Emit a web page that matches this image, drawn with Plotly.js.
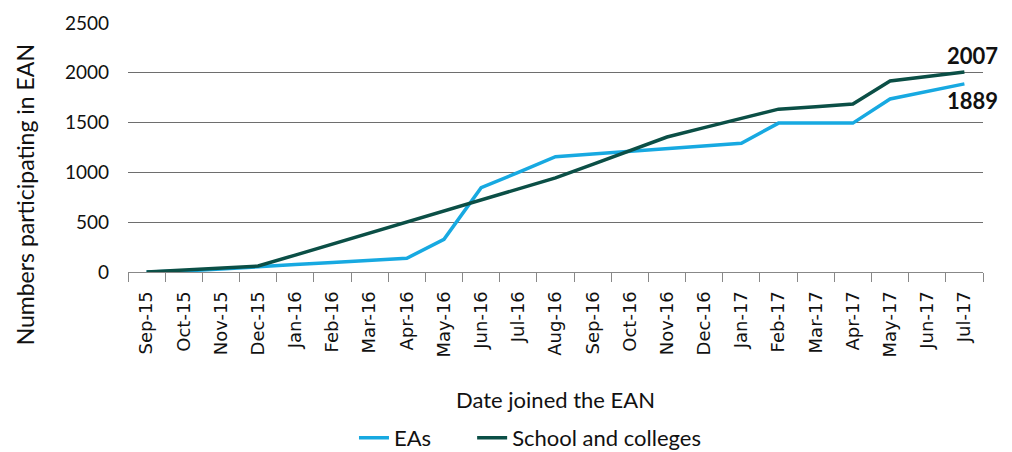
<!DOCTYPE html>
<html>
<head>
<meta charset="utf-8">
<script src="https://cdn.plot.ly/plotly-3.0.1.min.js"></script>
<style>
html,body{margin:0;padding:0;background:#fff;}
#chart{width:1012px;height:452px;}
</style>
</head>
<body>
<div id="chart"></div>
<script>
const months = ["Sep-15","Oct-15","Nov-15","Dec-15","Jan-16","Feb-16","Mar-16","Apr-16","May-16","Jun-16","Jul-16","Aug-16","Sep-16","Oct-16","Nov-16","Dec-16","Jan-17","Feb-17","Mar-17","Apr-17","May-17","Jun-17","Jul-17"];
const eas = [0, 10, 30, 55, 75, 95, 115, 138, 328, 846, 1000, 1158, 1185, 1210, 1237, 1265, 1292, 1495, 1495, 1495, 1737, 1815, 1889];
const schools = [0, 20, 40, 60, 170, 280, 390, 500, 615, 725, 835, 945, 1080, 1215, 1355, 1450, 1545, 1635, 1660, 1687, 1918, 1960, 2007];
const seriesNames = ["EAs", "School and colleges"];
const endLabels = ["1889", "2007"];
const yTitle = "Numbers participating in EAN";
const xTitle = "Date joined the EAN";

const traces = [
  {x: months, y: eas, name: seriesNames[0], type: "scatter", mode: "lines", legend: "legend",
   line: {color: "#17a9e1", width: 3.5}},
  {x: months, y: schools, name: seriesNames[1], type: "scatter", mode: "lines", legend: "legend2",
   line: {color: "#0b4f46", width: 3.5}}
];

const legFont = {family: "Lato", size: 22, color: "#111"};

const layout = {
  width: 1012, height: 452,
  margin: {l: 128, r: 29, t: 23, b: 180, autoexpand: false},
  paper_bgcolor: "#fff", plot_bgcolor: "#fff",
  font: {family: "Lato, 'Open Sans', sans-serif", color: "#111"},
  showlegend: true,
  legend: {orientation: "h", x: 0.2643, xanchor: "left", y: -0.666, yanchor: "middle", font: legFont},
  legend2: {orientation: "h", x: 0.4025, xanchor: "left", y: -0.666, yanchor: "middle", font: legFont},
  xaxis: {
    type: "category", range: [-0.5, 22.5], automargin: false,
    tickangle: -90, tickson: "boundaries", ticks: "outside", ticklen: 9, tickcolor: "#888",
    ticklabelstandoff: 11,
    showline: true, linecolor: "#888", linewidth: 1,
    showgrid: false, zeroline: false,
    tickfont: {family: "DejaVu Sans", size: 18, color: "#111"},
    title: {text: xTitle, font: {family: "Lato", size: 22, color: "#111"}, standoff: 36}
  },
  yaxis: {
    range: [0, 2500], tickvals: [0, 500, 1000, 1500, 2000, 2500], automargin: false,
    showgrid: true, gridcolor: "#6e6e6e", gridwidth: 1,
    zeroline: false, showline: false, ticks: "", ticklabelstandoff: 18,
    tickfont: {family: "Lato", size: 19, color: "#111"}
  },
  annotations: [
    {xref: "paper", yref: "paper", x: -0.121, y: 0.31, text: yTitle, textangle: -90,
     showarrow: false, xanchor: "center", yanchor: "middle",
     font: {family: "Lato", size: 23, color: "#111"}},
    {x: months[months.length-1], y: schools[schools.length-1], text: "<b>" + endLabels[1] + "</b>",
     showarrow: false, xanchor: "center", yanchor: "bottom", xshift: 8, yshift: 1,
     font: {family: "Lato", size: 22, color: "#111"}},
    {x: months[months.length-1], y: eas[eas.length-1], text: "<b>" + endLabels[0] + "</b>",
     showarrow: false, xanchor: "center", yanchor: "top", xshift: 8, yshift: -1,
     font: {family: "Lato", size: 22, color: "#111"}}
  ]
};

Plotly.newPlot("chart", traces, layout, {displayModeBar: false, staticPlot: true});
</script>
</body>
</html>
